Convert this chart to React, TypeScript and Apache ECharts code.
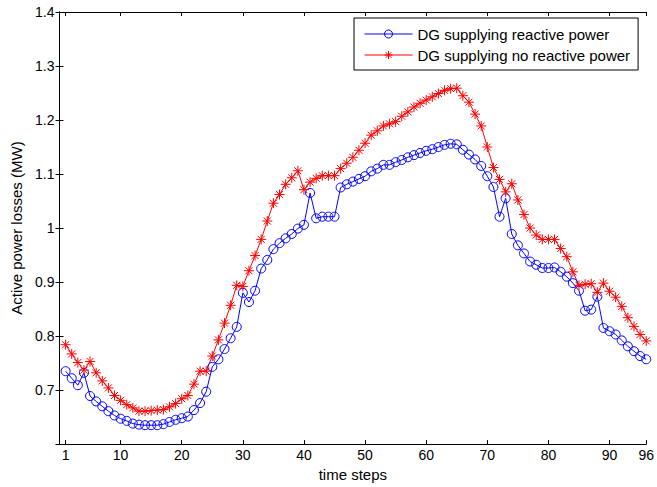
import React, { useEffect, useRef } from "react";
import * as echarts from "echarts";

const steps: number[] = Array.from({ length: 96 }, (_, i) => i + 1);

const withReactive: number[] = [
  0.735, 0.722, 0.709, 0.732, 0.689, 0.679, 0.670, 0.661, 0.653, 0.647,
  0.643, 0.638, 0.636, 0.635, 0.635, 0.635, 0.637, 0.641, 0.645, 0.648,
  0.651, 0.663, 0.676, 0.697, 0.743, 0.757, 0.776, 0.796, 0.817, 0.880,
  0.863, 0.884, 0.925, 0.941, 0.961, 0.972, 0.981, 0.989, 0.999, 1.006,
  1.065, 1.018, 1.021, 1.021, 1.021, 1.075, 1.081, 1.086, 1.091, 1.096,
  1.105, 1.110, 1.117, 1.117, 1.122, 1.126, 1.131, 1.135, 1.139, 1.143,
  1.146, 1.150, 1.154, 1.156, 1.155, 1.145, 1.136, 1.127, 1.115, 1.096,
  1.076, 1.021, 1.055, 0.989, 0.968, 0.953, 0.938, 0.932, 0.926, 0.926,
  0.927, 0.919, 0.910, 0.898, 0.884, 0.847, 0.849, 0.873, 0.815, 0.809,
  0.803, 0.792, 0.781, 0.772, 0.763, 0.757,
];

const noReactive: number[] = [
  0.784, 0.767, 0.751, 0.737, 0.753, 0.732, 0.717, 0.704, 0.690, 0.681,
  0.673, 0.667, 0.661, 0.661, 0.662, 0.663, 0.664, 0.669, 0.675, 0.684,
  0.690, 0.711, 0.735, 0.735, 0.763, 0.793, 0.824, 0.857, 0.894, 0.892,
  0.921, 0.949, 0.979, 1.013, 1.046, 1.062, 1.081, 1.093, 1.106, 1.071,
  1.085, 1.092, 1.097, 1.097, 1.097, 1.110, 1.120, 1.131, 1.144, 1.157,
  1.172, 1.180, 1.189, 1.193, 1.197, 1.207, 1.215, 1.224, 1.231, 1.237,
  1.243, 1.249, 1.255, 1.258, 1.259, 1.245, 1.233, 1.211, 1.189, 1.150,
  1.112, 1.090, 1.067, 1.082, 1.052, 1.025, 1.000, 0.987, 0.979, 0.979,
  0.979, 0.962, 0.947, 0.919, 0.894, 0.896, 0.897, 0.881, 0.898, 0.883,
  0.872, 0.855, 0.834, 0.818, 0.803, 0.791,
];

const xTicks: number[] = [1, 10, 20, 30, 40, 50, 60, 70, 80, 90, 96];
const seriesNames: string[] = [
  "DG supplying reactive power",
  "DG supplying no reactive power",
];

const FONT = "'Liberation Sans', Arial, Helvetica, sans-serif";
const STAR =
  "path://M5,0L5,10M0,5L10,5M1.5,1.5L8.5,8.5M1.5,8.5L8.5,1.5";

export default function App() {
  const ref = useRef<HTMLDivElement>(null);
  useEffect(() => {
    if (!ref.current) return;
    const chart = echarts.init(ref.current, null, { renderer: "svg" });
    const axisLine = { show: true, lineStyle: { color: "#000", width: 1 } };
    const tick = { show: true, inside: true, length: 4, lineStyle: { color: "#000" } };
    chart.setOption({
      animation: false,
      backgroundColor: "#fff",
      textStyle: { fontFamily: FONT },
      grid: { left: 59.5, right: 8.5, top: 12, bottom: 42.5, containLabel: false },
      legend: {
        orient: "vertical",
        left: 354,
        top: 18,
        data: seriesNames,
        backgroundColor: "#fff",
        borderColor: "#000",
        borderWidth: 1,
        borderRadius: 0,
        padding: [8, 8, 7, 10],
        itemWidth: 48,
        itemHeight: 10,
        itemGap: 5,
        lineStyle: { width: 1 },
        itemStyle: { borderWidth: 1 },
        textStyle: { fontSize: 15, color: "#000", fontFamily: FONT, lineHeight: 16 },
        z: 10,
      },
      xAxis: [
        {
          type: "value",
          min: 0,
          max: 96,
          position: "bottom",
          name: "time steps",
          nameLocation: "middle",
          nameGap: 18,
          nameTextStyle: { fontSize: 15, color: "#000", fontFamily: FONT },
          axisLine,
          axisTick: { ...tick, customValues: xTicks },
          axisLabel: {
            customValues: xTicks,
            fontSize: 14,
            color: "#000",
            margin: 4,
            fontFamily: FONT,
          },
          splitLine: { show: false },
        },
        {
          type: "value",
          min: 0,
          max: 96,
          position: "top",
          axisLine,
          axisTick: { ...tick, customValues: xTicks },
          axisLabel: { show: false, customValues: xTicks },
          splitLine: { show: false },
        },
      ],
      yAxis: [
        {
          type: "value",
          min: 0.6,
          max: 1.4,
          interval: 0.1,
          position: "left",
          name: "Active power losses (MW)",
          nameLocation: "middle",
          nameGap: 36,
          nameRotate: 90,
          nameTextStyle: { fontSize: 15, color: "#000", fontFamily: FONT },
          axisLine,
          axisTick: tick,
          axisLabel: {
            fontSize: 14,
            color: "#000",
            margin: 5,
            showMinLabel: false,
            fontFamily: FONT,
            formatter: (v: number) => String(parseFloat(v.toFixed(1))),
          },
          splitLine: { show: false },
        },
        {
          type: "value",
          min: 0.6,
          max: 1.4,
          interval: 0.1,
          position: "right",
          axisLine,
          axisTick: tick,
          axisLabel: { show: false },
          splitLine: { show: false },
        },
      ],
      series: [
        {
          name: seriesNames[0],
          type: "line",
          data: steps.map((s, i) => [s, withReactive[i]]),
          symbol: "circle",
          symbolSize: 9,
          showAllSymbol: true,
          lineStyle: { color: "#0000ff", width: 1 },
          itemStyle: { color: "rgba(0,0,0,0)", borderColor: "#0000ff", borderWidth: 1 },
          emphasis: { disabled: true },
        },
        {
          name: seriesNames[1],
          type: "line",
          data: steps.map((s, i) => [s, noReactive[i]]),
          symbol: STAR,
          symbolSize: 10,
          showAllSymbol: true,
          lineStyle: { color: "#ff0000", width: 1 },
          itemStyle: { color: "#ff0000", borderColor: "#ff0000", borderWidth: 1 },
          emphasis: { disabled: true },
        },
      ],
    });
    return () => chart.dispose();
  }, []);
  return (
    <div
      ref={ref}
      style={{ position: "fixed", left: 0, top: 0, width: 657, height: 487 }}
    />
  );
}
